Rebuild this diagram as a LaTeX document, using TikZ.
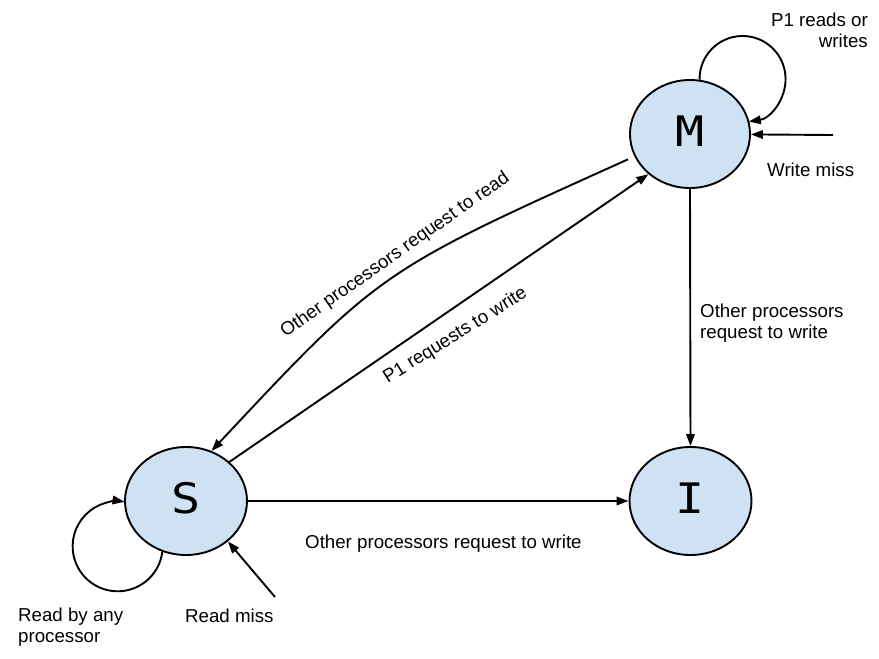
\documentclass[tikz,border=0pt]{standalone}
\usepackage{fontspec}
\setmainfont{Liberation Sans}
\newfontfamily\statefont[FakeStretch=1.15]{DejaVu Sans Mono}
\usetikzlibrary{arrows.meta,shapes.geometric}
\definecolor{statefill}{HTML}{CFE2F3}
\begin{document}
\begin{tikzpicture}[x=1pt,y=1pt,
  state/.style={ellipse, draw, line width=1.9pt, fill=statefill,
    minimum width=120pt, minimum height=108pt, inner sep=0pt,
    font=\statefont\fontsize{42}{42}\selectfont, text height=25pt, text depth=0pt},
  arr/.style={-{Triangle[length=12pt,width=8.5pt]}, line width=1.9pt},
  lbl/.style={font=\fontsize{18.7}{21}\selectfont, inner sep=0pt},
]
\useasboundingbox (0,-659) rectangle (879,0);
% states
\node[state] (M) at (690,-134) {M};
\node[state, minimum width=122pt] (S) at (186,-501) {S};
\node[state, minimum width=122pt] (I) at (690.5,-501) {I};
% self loops
\draw[arr] (M.80) arc[start angle=181, end angle=-81.7, radius=43];
\draw[arr] (S.245) arc[start angle=-7, end angle=-278.8, radius=45];
% external arrows
\coordinate (wm) at (833,-135);
\draw[arr] (wm) -- (M);
\coordinate (rm) at (275,-597);
\draw[arr] (rm) -- (S.-44);
% transitions
\draw[arr] (M.south) -- (I.north);
\draw[arr] (S.east) -- (I.west);
\draw[arr] (S.42) -- (M.224);
\draw[arr, shorten <=7pt] (M.202) .. controls (380,-271) and (380,-271) .. (S.63);
% labels
\node[lbl, anchor=base east, align=right] (l1) at (868,-47.3) {P1 reads or\\writes};
\node[lbl, anchor=base west] (l2) at (767,-176.7) {Write miss};
\node[lbl, anchor=base west, align=left] (l3) at (700,-338) {Other processors\\request to write};
\node[lbl, anchor=base west] (l4) at (305,-548) {Other processors request to write};
\node[lbl, anchor=base west, align=left] (l5) at (18,-642) {Read by any\\processor};
\node[lbl, anchor=base west] (l6) at (185,-622) {Read miss};
\node[lbl, anchor=base, rotate=35] (l7) at (398,-259) {Other processors request to read};
\node[lbl, anchor=base, rotate=32] (l8) at (458,-340) {P1 requests to write};
\end{tikzpicture}
\end{document}
